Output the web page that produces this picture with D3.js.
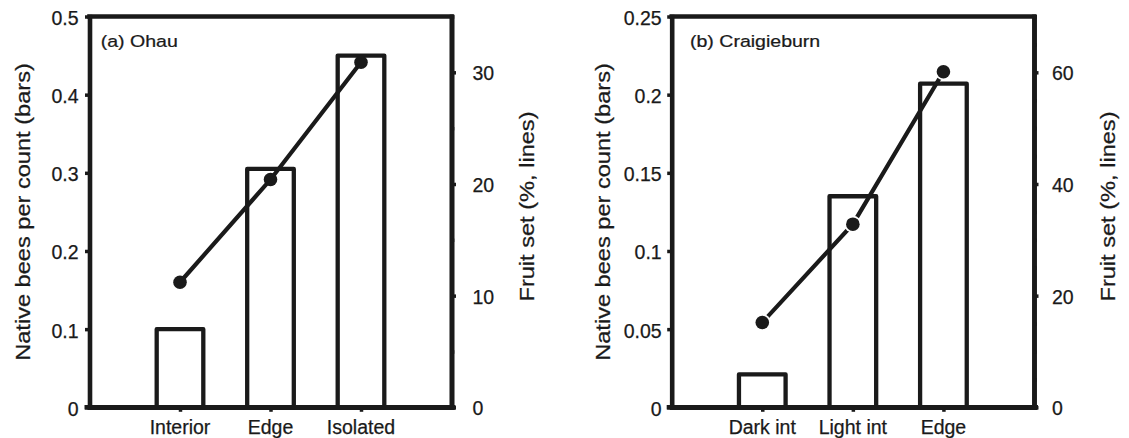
<!DOCTYPE html>
<html>
<head>
<meta charset="utf-8">
<script src="https://cdn.jsdelivr.net/npm/d3@7"></script>
<style>
  html, body { margin: 0; padding: 0; background: #fff; }
  svg { display: block; }
  text { font-family: "Liberation Sans", Arial, Helvetica, sans-serif; fill: #1a1a1a; stroke: #1a1a1a; stroke-width: 0.25px; }
</style>
</head>
<body>
<svg id="chart" width="1129" height="438"></svg>
<script>
// ---- data ----
const catsA = ["Interior", "Edge", "Isolated"];
const beesA = [0.1, 0.305, 0.45];
const fruitA = [11.2, 20.4, 30.9];
const leftTicksA = [0, 0.1, 0.2, 0.3, 0.4, 0.5];
const leftLabelsA = ["0", "0.1", "0.2", "0.3", "0.4", "0.5"];
const rightTicksA = [0, 10, 20, 30];
const rightMinorA = [5, 15, 25, 35];
const titleA = "(a) Ohau";

const catsB = ["Dark int", "Light int", "Edge"];
const beesB = [0.021, 0.135, 0.207];
const fruitB = [15.2, 32.8, 60.1];
const leftTicksB = [0, 0.05, 0.1, 0.15, 0.2, 0.25];
const leftLabelsB = ["0", "0.05", "0.1", "0.15", "0.2", "0.25"];
const rightTicksB = [0, 20, 40, 60];
const rightMinorB = [5, 10, 15, 25, 30, 35, 45, 50, 55, 65, 70];
const titleB = "(b) Craigieburn";

const yTitleLeft = "Native bees per count (bars)";
const yTitleRight = "Fruit set (%, lines)";

// ---- layout ----
const svg = d3.select("#chart");
const INK = "#1a1a1a";
const plotTop = 16.5, plotBottom = 407.3;

const panels = [
  { cats: catsA, bees: beesA, fruit: fruitA, lt: leftTicksA, ll: leftLabelsA, rt: rightTicksA, rm: rightMinorA,
    leftMax: 0.5, rightMax: 35, x0: 89.5, x1: 451.5, title: titleA, titleX: 100.7,
    tickPad: 11, rightPad: 21, leftTitleX: 29.5, rightTitleX: 534, halo: 0 },
  { cats: catsB, bees: beesB, fruit: fruitB, lt: leftTicksB, ll: leftLabelsB, rt: rightTicksB, rm: rightMinorB,
    leftMax: 0.25, rightMax: 70, x0: 671.7, x1: 1034, title: titleB, titleX: 690,
    tickPad: 10, rightPad: 18, leftTitleX: 609.5, rightTitleX: 1115, halo: 8.5 }
];

panels.forEach(p => {
  const g = svg.append("g");
  const idx = p.cats.map((c, i) => i + 1);
  const x = d3.scaleLinear().domain([0, p.cats.length + 1]).range([p.x0, p.x1]);
  const yL = d3.scaleLinear().domain([0, p.leftMax]).range([plotBottom, plotTop]);
  const yR = d3.scaleLinear().domain([0, p.rightMax]).range([plotBottom, plotTop]);
  const step = x(1) - x(0);
  const bw = step * 0.515;

  // bars
  g.selectAll("rect.bar").data(p.bees).join("rect")
    .attr("class", "bar")
    .attr("x", (d, i) => x(idx[i]) - bw / 2)
    .attr("width", bw)
    .attr("y", d => yL(d))
    .attr("height", d => yL(0) - yL(d))
    .attr("fill", "#fff")
    .attr("stroke", INK)
    .attr("stroke-width", 4.3)
    .attr("stroke-linejoin", "round");

  // line
  const pts = p.fruit.map((v, i) => [x(idx[i]), yR(v)]);
  g.append("path")
    .attr("d", d3.line()(pts))
    .attr("fill", "none")
    .attr("stroke", INK)
    .attr("stroke-width", 4.2);
  if (p.halo > 0) {
    g.selectAll("circle.halo").data(pts).join("circle")
      .attr("class", "halo")
      .attr("cx", d => d[0]).attr("cy", d => d[1]).attr("r", p.halo)
      .attr("fill", "#fff");
  }
  g.selectAll("circle.pt").data(pts).join("circle")
    .attr("class", "pt")
    .attr("cx", d => d[0]).attr("cy", d => d[1]).attr("r", 6.8)
    .attr("fill", INK);

  // axes via d3
  const axL = d3.axisLeft(yL).tickValues(p.lt).tickSize(4.5).tickSizeOuter(0).tickFormat("");
  const axR = d3.axisRight(yR).tickValues(p.rt).tickSize(4.5).tickSizeOuter(0).tickFormat("");
  const axRm = d3.axisRight(yR).tickValues(p.rm).tickSize(2.8).tickSizeOuter(0).tickFormat("");
  const axB = d3.axisBottom(x).tickValues(idx).tickSize(4.5).tickSizeOuter(0).tickFormat("");

  const styleAxis = sel => {
    sel.select(".domain").attr("stroke", INK).attr("stroke-width", 4.6).attr("stroke-linecap", "square");
    sel.selectAll(".tick line").attr("stroke", INK).attr("stroke-width", 3.5);
  };
  g.append("g").attr("transform", `translate(${p.x0},0)`).call(axL).call(styleAxis);
  g.append("g").attr("transform", `translate(${p.x1},0)`).call(axR).call(styleAxis);
  g.append("g").attr("transform", `translate(${p.x1},0)`).call(axRm).call(styleAxis);
  g.append("g").attr("transform", `translate(0,${plotBottom})`).call(axB).call(styleAxis);
  // top frame
  g.append("line").attr("x1", p.x0).attr("x2", p.x1).attr("y1", plotTop).attr("y2", plotTop)
    .attr("stroke", INK).attr("stroke-width", 4.6).attr("stroke-linecap", "square");
  // bottom extends over left tick
  g.append("line").attr("x1", p.x0 - 5).attr("x2", p.x1 + 4).attr("y1", plotBottom).attr("y2", plotBottom)
    .attr("stroke", INK).attr("stroke-width", 4.6);

  // left tick labels
  g.selectAll("text.lt").data(p.lt).join("text")
    .attr("class", "lt")
    .attr("x", p.x0 - p.tickPad)
    .attr("y", d => yL(d) + 8.5)
    .attr("text-anchor", "end")
    .attr("font-size", 19.5)
    .text((d, i) => p.ll[i]);
  // right tick labels
  g.selectAll("text.rt").data(p.rt).join("text")
    .attr("class", "rt")
    .attr("x", p.x1 + p.rightPad)
    .attr("y", d => yR(d) + 8)
    .attr("text-anchor", "start")
    .attr("font-size", 19.5)
    .text(d => d);
  // category labels
  g.selectAll("text.cat").data(p.cats).join("text")
    .attr("class", "cat")
    .attr("x", (d, i) => x(idx[i]))
    .attr("y", 434)
    .attr("text-anchor", "middle")
    .attr("font-size", 19.5)
    .text(d => d);
  // panel title
  g.append("text")
    .attr("transform", `translate(${p.titleX},46.5) scale(1.15,1)`)
    .attr("font-size", 17)
    .text(p.title);
  // axis titles
  g.append("text")
    .attr("transform", `translate(${p.leftTitleX},212) rotate(-90) scale(1.18,1)`)
    .attr("text-anchor", "middle")
    .attr("font-size", 20)
    .text(yTitleLeft);
  g.append("text")
    .attr("transform", `translate(${p.rightTitleX},206.5) rotate(-90) scale(1.18,1)`)
    .attr("text-anchor", "middle")
    .attr("font-size", 20)
    .text(yTitleRight);
});
</script>
</body>
</html>
